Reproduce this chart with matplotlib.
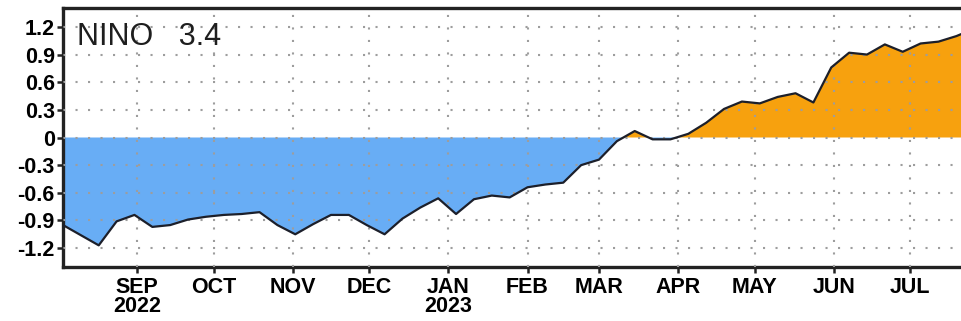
import numpy as np
import pandas as pd
import matplotlib
matplotlib.use("Agg")
import matplotlib.pyplot as plt
import matplotlib.dates as mdates

# Weekly Nino 3.4 SST anomalies (deg C), weeks centred on Wednesdays
week_start = "2022-08-03"
anomaly = [-0.95, -1.06, -1.17, -0.91, -0.84, -0.97, -0.95, -0.89, -0.86, -0.84,
           -0.83, -0.81, -0.95, -1.05, -0.94, -0.84, -0.84, -0.95, -1.05, -0.88,
           -0.76, -0.66, -0.83, -0.67, -0.63, -0.65, -0.54, -0.51, -0.49, -0.30,
           -0.24, -0.04, 0.07, -0.02, -0.02, 0.04, 0.16, 0.31, 0.39, 0.37,
           0.44, 0.48, 0.38, 0.76, 0.92, 0.90, 1.01, 0.93, 1.02, 1.04,
           1.10, 1.18]

month_ticks = ["2022-09-01", "2022-10-01", "2022-11-01", "2022-12-01", "2023-01-01",
               "2023-02-01", "2023-03-01", "2023-04-01", "2023-05-01", "2023-06-01",
               "2023-07-01"]
month_labels = ["SEP\n2022", "OCT", "NOV", "DEC", "JAN\n2023", "FEB", "MAR",
                "APR", "MAY", "JUN", "JUL"]
y_ticks = [1.2, 0.9, 0.6, 0.3, 0, -0.3, -0.6, -0.9, -1.2]
y_labels = ["1.2", "0.9", "0.6", "0.3", "0", "-0.3", "-0.6", "-0.9", "-1.2"]
title = "NINO   3.4"

dates = pd.date_range(week_start, periods=len(anomaly), freq="7D")
x = mdates.date2num(dates)
y = np.array(anomaly)

W, H = 961, 321
fig = plt.figure(figsize=(W / 100, H / 100), dpi=100)
ax = fig.add_axes([63 / W, (H - 267) / H, 902 / W, (267 - 8) / H])

warm = "#f7a10e"
cool = "#68adf5"
ax.fill_between(x, y, 0, where=y >= 0, interpolate=True, color=warm, lw=0, zorder=1)
ax.fill_between(x, y, 0, where=y <= 0, interpolate=True, color=cool, lw=0, zorder=1)
ax.plot(x, y, color="#1c1f2a", lw=1.6, zorder=3)

x0 = mdates.date2num(pd.Timestamp(week_start))
ax.set_xlim(x0, x0 + 353.4)
ax.set_ylim(-1.405, 1.405)

tick_font = dict(family=["Liberation Sans Narrow", "Liberation Sans", "DejaVu Sans"],
                 weight="bold", size=15.5)
ax.set_xticks(mdates.date2num(pd.to_datetime(month_ticks)))
ax.set_xticklabels(month_labels, fontdict=tick_font, linespacing=0.9)
ax.set_yticks(y_ticks)
ax.set_yticklabels(y_labels, fontdict=tick_font)
ax.tick_params(axis="both", direction="out", length=4, width=1.8, color="#222222",
               pad=2)
ax.tick_params(axis="x", pad=3)

ax.grid(True, color="#9d9d9d", linestyle=(0, (1, 5)), linewidth=1.5, zorder=2)
ax.set_axisbelow(False)

for side in ["left", "bottom", "top"]:
    ax.spines[side].set_linewidth(2.4)
    ax.spines[side].set_color("#222222")
ax.spines["right"].set_visible(False)

ax.text(0.015, 0.945, title, transform=ax.transAxes, ha="left", va="top",
        fontsize=22, family=["Liberation Sans", "DejaVu Sans"], color="#1e1e1e",
        zorder=5)

fig.savefig("out.png", dpi=100)
